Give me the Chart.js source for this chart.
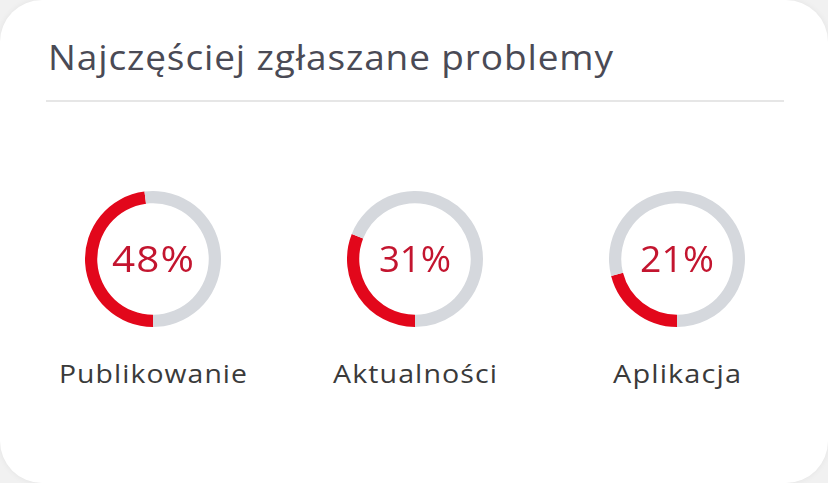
<!DOCTYPE html>
<html>
<head>
<meta charset="utf-8">
<script src="https://cdn.jsdelivr.net/npm/chart.js@4.4.1/dist/chart.umd.min.js"></script>
<style>
  html, body { margin:0; padding:0; width:828px; height:483px; overflow:hidden; background:#f1f1f1; }
  #card { position:absolute; left:0; top:0; width:828px; height:483px; background:#fff; border-radius:42px; box-shadow: 0 0 6px rgba(0,0,0,0.06); }
  .txt { position:absolute; white-space:nowrap; font-family:"Open Sans", sans-serif; line-height:1; }
  #title { left:48px; top:40px; font-size:34px; color:#4a4a55; transform-origin:0 0; }
  #sep { position:absolute; left:46px; top:100px; width:738px; height:2px; background:#e6e6e6; }
  .donut { position:absolute; width:136px; height:136px; }
  .pct { font-size:37px; color:#c3152f; }
  .lbl { font-size:25px; color:#3a3a3a; }
</style>
</head>
<body>
<div id="card">
  <div id="title" class="txt">Najczęściej zgłaszane problemy</div>
  <div id="sep"></div>
</div>
<script>
const categories = ["Publikowanie", "Aktualności", "Aplikacja"];
const shares = [48, 31, 21];
const remaining = [52, 69, 79];

const centersX = [152.5, 414.5, 677];
const centerY = 258.5;
const radius = 68;
const pctWidths = [82, 72, 74];
const lblWidths = [188, 164, 128];
const card = document.getElementById('card');

// stretch text so its width matches the target (mix of letter-spacing and horizontal scale)
function fitText(el, target, centered) {
  el.style.letterSpacing = '0px';
  const w = el.getBoundingClientRect().width;
  const n = el.textContent.length;
  const ls = (target - w) * 0.35 / n;
  el.style.letterSpacing = ls + 'px';
  const w2 = el.getBoundingClientRect().width - ls;
  const s = target / w2;
  el.style.transformOrigin = '0 0';
  el.style.transform = (centered ? 'translateX(' + (-target / 2) + 'px) ' : '') + 'scaleX(' + s + ')';
}

categories.forEach((cat, i) => {
  const box = document.createElement('div');
  box.className = 'donut';
  box.style.left = (centersX[i] - radius) + 'px';
  box.style.top = (centerY - radius) + 'px';
  const cv = document.createElement('canvas');
  cv.width = radius * 2; cv.height = radius * 2;
  box.appendChild(cv);
  card.appendChild(box);
  new Chart(cv, {
    type: 'doughnut',
    data: {
      labels: [cat, ''],
      datasets: [{
        data: [shares[i], remaining[i]],
        backgroundColor: ['#e2071b', '#d5d8dd'],
        borderWidth: 0
      }]
    },
    options: {
      responsive: false,
      animation: false,
      rotation: 180,
      cutout: '82%',
      layout: { padding: 0 },
      plugins: { legend: { display: false }, tooltip: { enabled: false } }
    }
  });

  const pct = document.createElement('div');
  pct.className = 'txt pct';
  pct.textContent = shares[i] + '%';
  pct.style.left = centersX[i] + 'px';
  pct.style.top = (centerY - 20) + 'px';
  card.appendChild(pct);
  fitText(pct, pctWidths[i], true);

  const lbl = document.createElement('div');
  lbl.className = 'txt lbl';
  lbl.textContent = cat;
  lbl.style.left = centersX[i] + 'px';
  lbl.style.top = '361px';
  card.appendChild(lbl);
  fitText(lbl, lblWidths[i], true);
});
fitText(document.getElementById('title'), 565, false);
</script>
</body>
</html>
